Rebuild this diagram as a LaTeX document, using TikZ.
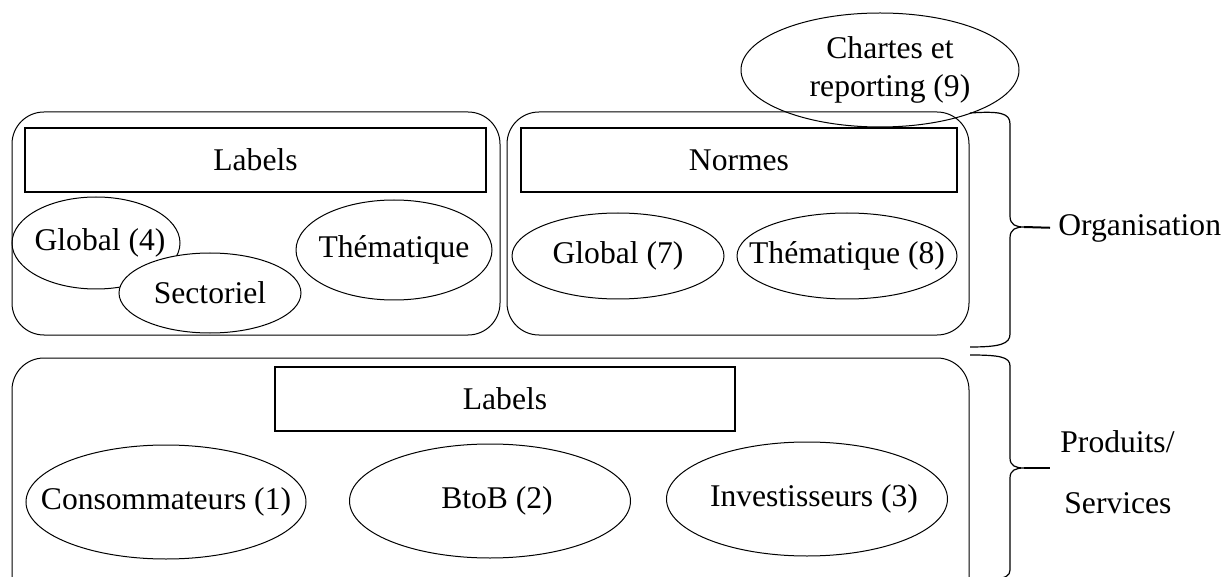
\documentclass[tikz,border=0pt]{standalone}
\usepackage{fontspec}
\setmainfont{Liberation Serif}
\usetikzlibrary{shapes.geometric}

\newcommand{\ovtxt}[1]{\makebox[0pt]{#1}}

\tikzset{
  grp/.style={draw, line width=.5pt, rounded corners=16pt},
  ttl/.style={draw, line width=1pt, inner sep=0pt},
  oval/.style={draw, ellipse, line width=.5pt, inner sep=0pt},
  brc/.style={draw, line width=.6pt},
}

\begin{document}
\begin{tikzpicture}[x=.5pt, y=-.5pt, font=\fontsize{15.8}{19.5}\selectfont]
  \clip (0,0) rectangle (1226,577);

  % frames
  \draw[grp] (12,112) rectangle (500,335);
  \draw[grp] (507,112) rectangle (969,335);
  \draw[grp] (12,358) rectangle (969,620);

  % titles
  \node[ttl, minimum width=230.5pt, minimum height=32pt] (lab1) at (255.5,160) {Labels};
  \node[ttl, minimum width=218pt, minimum height=32pt] (norm) at (739,160) {Normes};
  \node[ttl, minimum width=230pt, minimum height=32pt] (lab2) at (505,399) {Labels};

  % labels
  \node[oval, minimum width=84pt, minimum height=46pt] (glob4) at (96,243) {\ovtxt{\hspace*{4pt}Global (4)}};
  \node[oval, fill=white, minimum width=91pt, minimum height=40pt] (sect) at (210,293) {\ovtxt{\raisebox{-2pt}{Sectoriel}}};
  \node[oval, minimum width=98pt, minimum height=50pt] (them) at (394,250) {\ovtxt{\raisebox{-1pt}{Thématique}}};

  % normes
  \node[oval, minimum width=106pt, minimum height=43pt] (glob7) at (618,256) {\ovtxt{\raisebox{-2pt}{Global (7)}}};
  \node[oval, minimum width=110pt, minimum height=43pt] (them8) at (847,256) {\ovtxt{Thématique (8)}};
  \node[oval, minimum width=139pt, minimum height=57pt] (chart) at (880,70)
    {\ovtxt{\hspace*{10pt}\raisebox{2pt}{\shortstack{Chartes et\\[5pt]reporting (9)}}}};

  % produits
  \node[oval, minimum width=140pt, minimum height=57pt] (cons) at (166,502) {\ovtxt{Consommateurs (1)}};
  \node[oval, minimum width=140.5pt, minimum height=57pt] (btob) at (490,501) {\ovtxt{\hspace*{7pt}BtoB (2)}};
  \node[oval, minimum width=140.5pt, minimum height=57pt] (inv) at (807,499) {\ovtxt{\hspace*{7pt}\raisebox{3pt}{Investisseurs (3)}}};

  % braces
  \node[anchor=west, inner sep=0pt] (org) at (1058,228) {Organisation};
  \node[anchor=west, inner sep=0pt] (prod) at (1060,442) {Produits/};
  \node[anchor=west, inner sep=0pt] (serv) at (1064,503) {Services};

  \draw[brc] (970,113) .. controls (1000,111) and (1010,113) .. (1010,124)
    -- (1010,216) .. controls (1010,225) and (1016,227) .. (1024,227)
    .. controls (1016,227) and (1010,229) .. (1010,238)
    -- (1010,334) .. controls (1010,344) and (1000,347) .. (970,347);
  \draw[line width=1pt, shorten >=4pt] (1024,227) -- (org.west);

  \draw[brc] (970,355) .. controls (1000,355) and (1010,357) .. (1010,366)
    -- (1010,458) .. controls (1010,466) and (1016,468) .. (1024,468)
    .. controls (1016,468) and (1010,470) .. (1010,478)
    -- (1010,570) .. controls (1010,576) and (1005,578) .. (995,579);
  \draw[line width=1pt] (1024,468) -- (1050,468);
\end{tikzpicture}
\end{document}
